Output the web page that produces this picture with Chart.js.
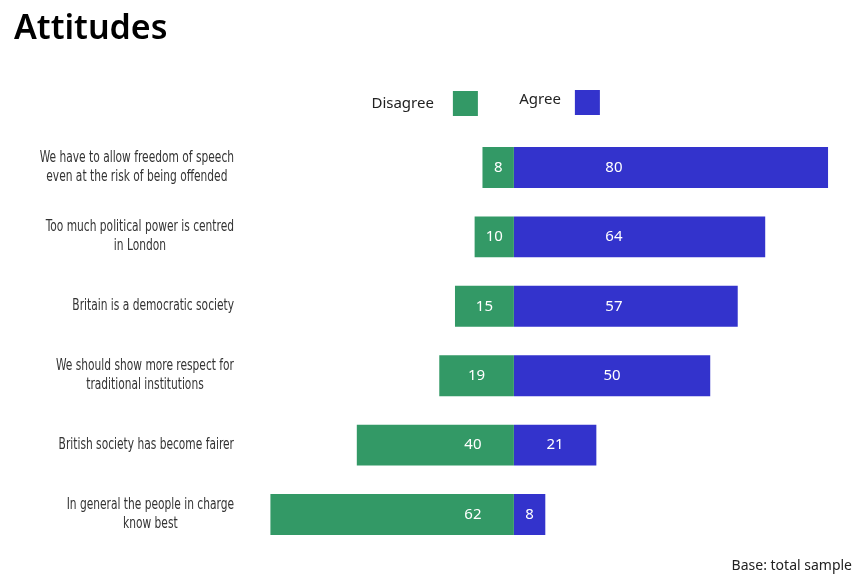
<!DOCTYPE html>
<html>
<head>
<meta charset="utf-8">
<script src="https://cdn.jsdelivr.net/npm/chart.js@4/dist/chart.umd.min.js"></script>
<style>
  html, body { margin: 0; padding: 0; background: #fff; }
  #wrap { width: 854px; height: 574px; position: relative; }
</style>
</head>
<body>
<div id="wrap"><canvas id="chart"></canvas></div>
<script>
// statements, top to bottom
const categories = [
  ['We have to allow freedom of speech', 'even at the risk of being offended'],
  ['Too much political power is centred', 'in London'],
  ['Britain is a democratic society'],
  ['We should show more respect for', 'traditional institutions'],
  ['British society has become fairer'],
  ['In general the people in charge', 'know best']
];
const disagree = [8, 10, 15, 19, 40, 62];
const agree = [80, 64, 57, 50, 21, 8];

const GREEN = '#339966';
const BLUE = '#3333cc';
const LABEL_FONT = '"DejaVu Sans Condensed", sans-serif';
const TEXT_FONT = '"Noto Sans", sans-serif';
const LABEL_SQUEEZE = 0.79; // narrow look for the statement text

// category labels: each block right-aligned to the axis, its lines centred on each other
const statementLabels = {
  id: 'statementLabels',
  afterDraw(chart) {
    const ctx = chart.ctx;
    const y = chart.scales.y;
    const right = y.right - 5;
    const lineH = 19;
    ctx.save();
    ctx.font = '15px ' + LABEL_FONT;
    ctx.fillStyle = '#333';
    ctx.textAlign = 'center';
    ctx.textBaseline = 'middle';
    categories.forEach((lines, i) => {
      const maxW = Math.max(...lines.map(l => ctx.measureText(l).width)) * LABEL_SQUEEZE;
      const cx = right - maxW / 2;
      const cy = y.getPixelForValue(i);
      const top = cy - (lines.length - 1) * lineH / 2;
      lines.forEach((l, j) => {
        ctx.save();
        ctx.translate(cx, top + j * lineH);
        ctx.scale(LABEL_SQUEEZE, 1);
        ctx.fillText(l, 0, 0);
        ctx.restore();
      });
    });
    ctx.restore();
  }
};

// white value labels inside the bars
const valueLabels = {
  id: 'valueLabels',
  afterDatasetsDraw(chart) {
    const ctx = chart.ctx;
    ctx.save();
    ctx.font = '15px ' + TEXT_FONT;
    ctx.fillStyle = '#fff';
    ctx.textAlign = 'center';
    ctx.textBaseline = 'middle';
    chart.data.datasets.forEach((ds, di) => {
      const meta = chart.getDatasetMeta(di);
      meta.data.forEach((bar, i) => {
        const v = Math.abs(ds.data[i]);
        const mid = (bar.x + bar.base) / 2;
        const x = di === 0 ? Math.max(mid, bar.base - 41) : Math.min(mid, bar.base + 100);
        ctx.fillText(String(v), x, bar.y);
      });
    });
    ctx.restore();
  }
};

// legend with the swatch after the text
const sideLegend = {
  id: 'sideLegend',
  afterDraw(chart) {
    const ctx = chart.ctx;
    const zero = chart.scales.x.getPixelForValue(0);
    const items = [
      { ds: chart.data.datasets[0], boxRight: zero - 36, cy: 103.5 },
      { ds: chart.data.datasets[1], boxRight: zero + 86, cy: 102.5 }
    ];
    ctx.save();
    ctx.font = '15px ' + TEXT_FONT;
    ctx.textBaseline = 'middle';
    ctx.textAlign = 'right';
    items.forEach((it, k) => {
      ctx.fillStyle = it.ds.backgroundColor;
      ctx.fillRect(it.boxRight - 25, it.cy - 12.5, 25, 25);
      ctx.fillStyle = '#222';
      ctx.fillText(it.ds.label, it.boxRight - 25 - (k === 0 ? 19 : 14), it.cy - (k === 0 ? 0 : 3));
    });
    ctx.restore();
  }
};

new Chart(document.getElementById('chart'), {
  type: 'bar',
  data: {
    labels: categories,
    datasets: [
      {
        label: 'Disagree',
        data: disagree.map(v => -v),
        backgroundColor: GREEN,
        stack: 's',
        barPercentage: 0.59,
        categoryPercentage: 1
      },
      {
        label: 'Agree',
        data: agree,
        backgroundColor: BLUE,
        stack: 's',
        barPercentage: 0.59,
        categoryPercentage: 1
      }
    ]
  },
  options: {
    indexAxis: 'y',
    responsive: true,
    maintainAspectRatio: false,
    animation: false,
    layout: { padding: { left: 14, right: 2, top: 0, bottom: 0 } },
    plugins: {
      legend: { display: false },
      tooltip: { enabled: false },
      title: {
        display: true,
        text: 'Attitudes',
        align: 'start',
        color: '#000',
        font: { family: TEXT_FONT, size: 34, weight: '600' },
        padding: { top: 9, bottom: 83 }
      },
      subtitle: {
        display: true,
        text: 'Base: total sample',
        position: 'bottom',
        align: 'end',
        color: '#222',
        font: { family: TEXT_FONT, size: 14 },
        padding: { top: 8, bottom: 0 }
      }
    },
    scales: {
      x: {
        stacked: true,
        display: false,
        min: -70,
        max: 86.1
      },
      y: {
        stacked: true,
        grid: { display: false },
        border: { display: false },
        ticks: { display: false },
        afterFit(scale) {
          scale.width = 225;
        }
      }
    }
  },
  plugins: [statementLabels, valueLabels, sideLegend]
});
</script>
</body>
</html>
